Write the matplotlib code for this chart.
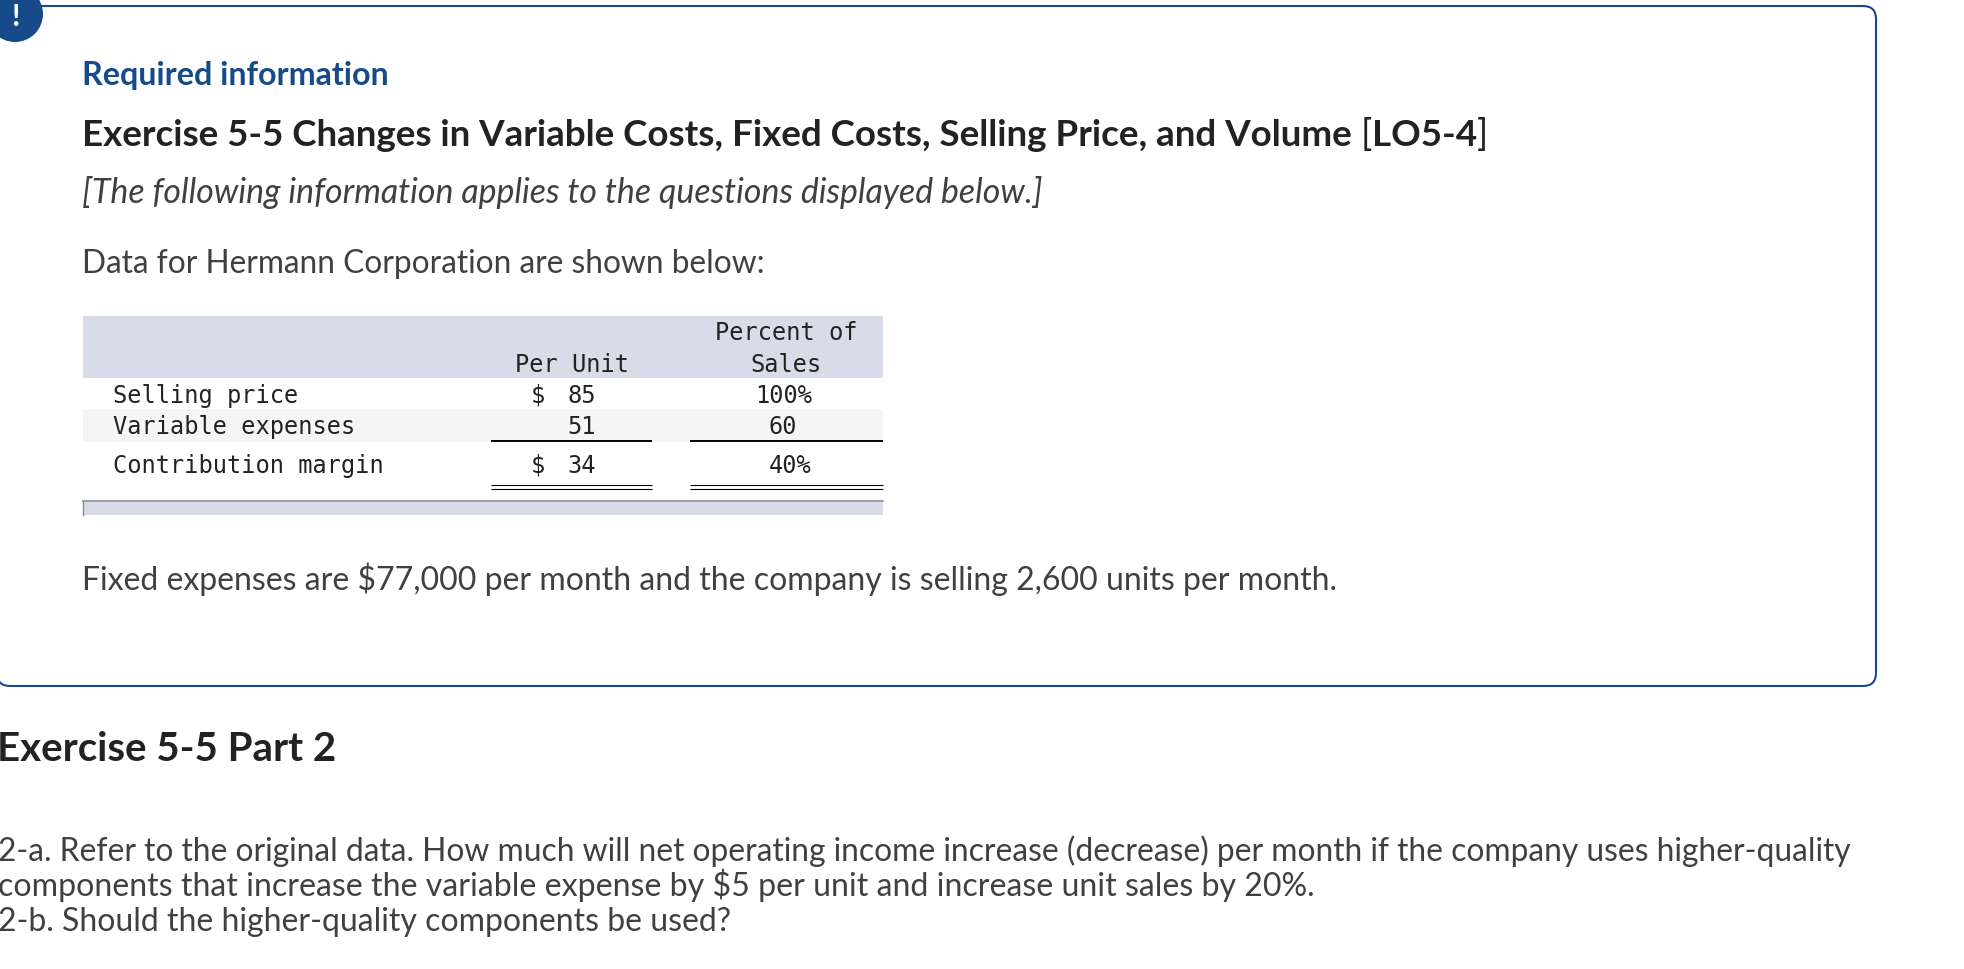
import matplotlib
matplotlib.use("Agg")
import matplotlib.pyplot as plt
from matplotlib.patches import Circle, FancyBboxPatch, Rectangle

BLUE = "#164a8a"
DARK = "#404040"
SANS = "Lato"
MONO = "DejaVu Sans Mono"

row_labels = ["Selling price", "Variable expenses", "Contribution margin"]
per_unit = [85, 51, 34]
pct_sales = [100, 60, 40]
fixed_expenses = "$77,000"
units_sold = "2,600"

q_lines = [
    "2-a. Refer to the original data. How much will net operating income increase (decrease) per month if the company uses higher-quality",
    "components that increase the variable expense by $5 per unit and increase unit sales by 20%.",
    "2-b. Should the higher-quality components be used?",
]

fig = plt.figure(figsize=(19.65, 9.7), dpi=100)
ax = fig.add_axes([0, 0, 1, 1])
ax.set_xlim(0, 1965)
ax.set_ylim(970, 0)
ax.axis("off")

# outer box and the ! badge
ax.add_patch(FancyBboxPatch((-3, 7), 1879, 680, boxstyle="round,pad=0,rounding_size=13",
                            fc="white", ec=BLUE, lw=1.5))
ax.add_patch(Circle((15, 15), 28, fc=BLUE, ec="none", zorder=3))
ax.text(15, 26, "!", color="white", fontsize=22, fontweight="bold", family=SANS,
        ha="center", va="baseline", zorder=4)


def txt(x, y, s, size=20, **kw):
    kw.setdefault("color", DARK)
    kw.setdefault("family", SANS)
    return ax.text(x, y, s, fontsize=size, va="baseline", **kw)


txt(82, 85, "Required information", 23.2, color=BLUE, fontweight="bold")

# title: bold with lighter brackets, so it goes piece by piece
r = fig.canvas.get_renderer()
x = 82
for part, w in [("Exercise 5-5 Changes in Variable Costs, Fixed Costs, Selling Price, and Volume ", "bold"),
                ("[", "normal"), ("LO5-4", "bold"), ("]", "normal")]:
    t = txt(x, 146, part.replace(" ", "\u00a0"), 26.5, fontweight=w, color="#222222")
    x = t.get_window_extent(r).x1

txt(82, 203, "[The following information applies to the questions displayed below.]", 24.4,
    style="italic")
txt(82, 273, "Data for Hermann Corporation are shown below:", 22.8)

# table
ax.add_patch(Rectangle((83, 317), 800, 62, fc="#d8dce8", ec="none"))
ax.add_patch(Rectangle((83, 410), 800, 33, fc="#f5f5f5", ec="none"))
ax.add_patch(Rectangle((83, 502), 800, 14, fc="#d8dce8", ec="none"))
ax.plot([83, 883], [502, 502], color="#8a8f99", lw=1.2)
ax.plot([83, 83], [502, 516], color="#8a8f99", lw=1)

mono = dict(family=MONO, color="#222222")
txt(786, 340, "Percent of", 17, ha="center", **mono)
txt(572, 372, "Per Unit", 17, ha="center", **mono)
txt(786, 372, "Sales", 17, ha="center", **mono)

row_y = [403, 434, 473]
for i, y in enumerate(row_y):
    txt(113, y, row_labels[i], 17, **mono)
    txt(596, y, str(per_unit[i]), 17, ha="right", **mono)
    if i != 1:
        txt(531, y, "$", 17, **mono)
        txt(812, y, str(pct_sales[i]) + "%", 17, ha="right", **mono)
    else:
        txt(797, y, str(pct_sales[i]), 17, ha="right", **mono)

for x0, x1 in [(491, 652), (690, 883)]:
    ax.plot([x0, x1], [442, 442], color="black", lw=1.4, solid_capstyle="butt")
    ax.plot([x0, x1], [486, 486], color="black", lw=0.8, solid_capstyle="butt")
    ax.plot([x0, x1], [489.5, 489.5], color="black", lw=0.8, solid_capstyle="butt")

txt(82, 590, f"Fixed expenses are {fixed_expenses} per month and the company is selling {units_sold} units per month.",
    23.05)

txt(-3, 761, "Exercise 5-5 Part 2", 29, fontweight="bold", color="#222222")

for y, line, size in zip([861, 896, 931], q_lines, [22.85, 23.1, 23.0]):
    txt(-2, y, line, size)

fig.savefig("out.png", dpi=100)
